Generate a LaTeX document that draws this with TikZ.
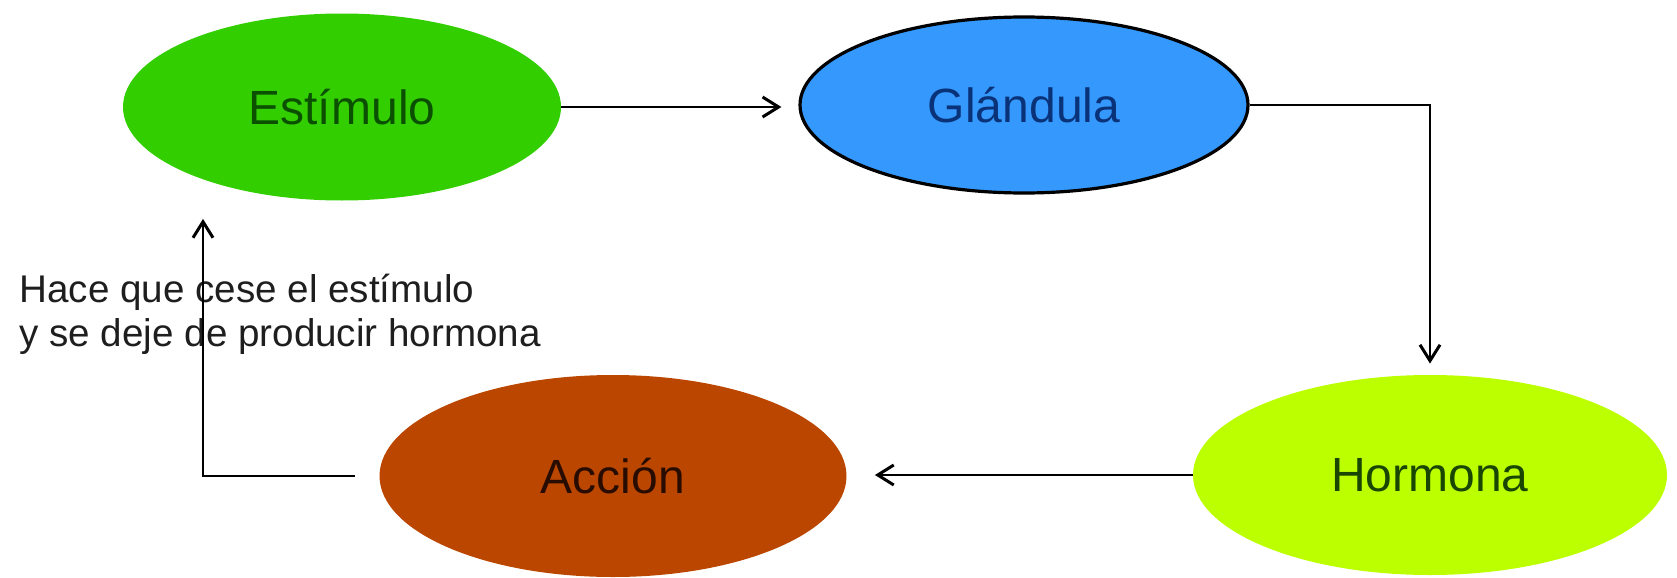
\documentclass[tikz,border=0pt]{standalone}
\usepackage{fontspec}
\setmainfont{Liberation Sans}
\usetikzlibrary{arrows.meta,shapes.geometric}

\definecolor{verdeE}{RGB}{50,206,0}
\definecolor{azulG}{RGB}{52,152,252}
\definecolor{rojoA}{RGB}{186,70,0}
\definecolor{limaH}{RGB}{188,255,0}

\begin{document}
\begin{tikzpicture}[x=0.5pt,y=-0.5pt,
  elip/.style={ellipse,inner sep=0pt,font=\fontsize{24}{28}\selectfont},
  flecha/.style={-{Straight Barb[length=8pt,width=10pt,line width=1.5pt]},line width=1.1pt}]
  \useasboundingbox (0,0) rectangle (1677,578);
  \node[elip,fill=verdeE,text={rgb,255:red,10;green,80;blue,0},minimum width=219pt,minimum height=93.5pt] (estimulo) at (342,107) {Estímulo};
  \node[elip,fill=azulG,draw=black,line width=1.6pt,text={rgb,255:red,10;green,50;blue,120},minimum width=224pt,minimum height=88pt] (glandula) at (1024,105) {Glándula};
  \node[elip,fill=limaH,text={rgb,255:red,25;green,70;blue,0},minimum width=237pt,minimum height=100pt] (hormona) at (1430,475) {Hormona};
  \node[elip,fill=rojoA,text={rgb,255:red,40;green,12;blue,0},minimum width=233.5pt,minimum height=101pt] (accion) at (613,476) {Acción};
  \node[anchor=west,align=left,inner sep=0pt,font=\fontsize{19.3}{22}\selectfont,text={rgb,255:red,30;green,30;blue,30}] (nota) at (19,314) {Hace que cese el estímulo\\y se deje de producir hormona};
  \coordinate (codo) at (203,476);
  \draw[flecha,shorten >=8.5pt] (estimulo.east) -- (estimulo.east -| glandula.west);
  \draw[flecha,shorten >=5.5pt] (glandula.east) -| (hormona.north);
  \draw[flecha,shorten >=14pt] (hormona.west) -- (hormona.west -| accion.east);
  \draw[flecha,shorten <=12pt,shorten >=9pt] (accion.west) -- (codo) -- (codo |- estimulo.south);
\end{tikzpicture}
\end{document}
